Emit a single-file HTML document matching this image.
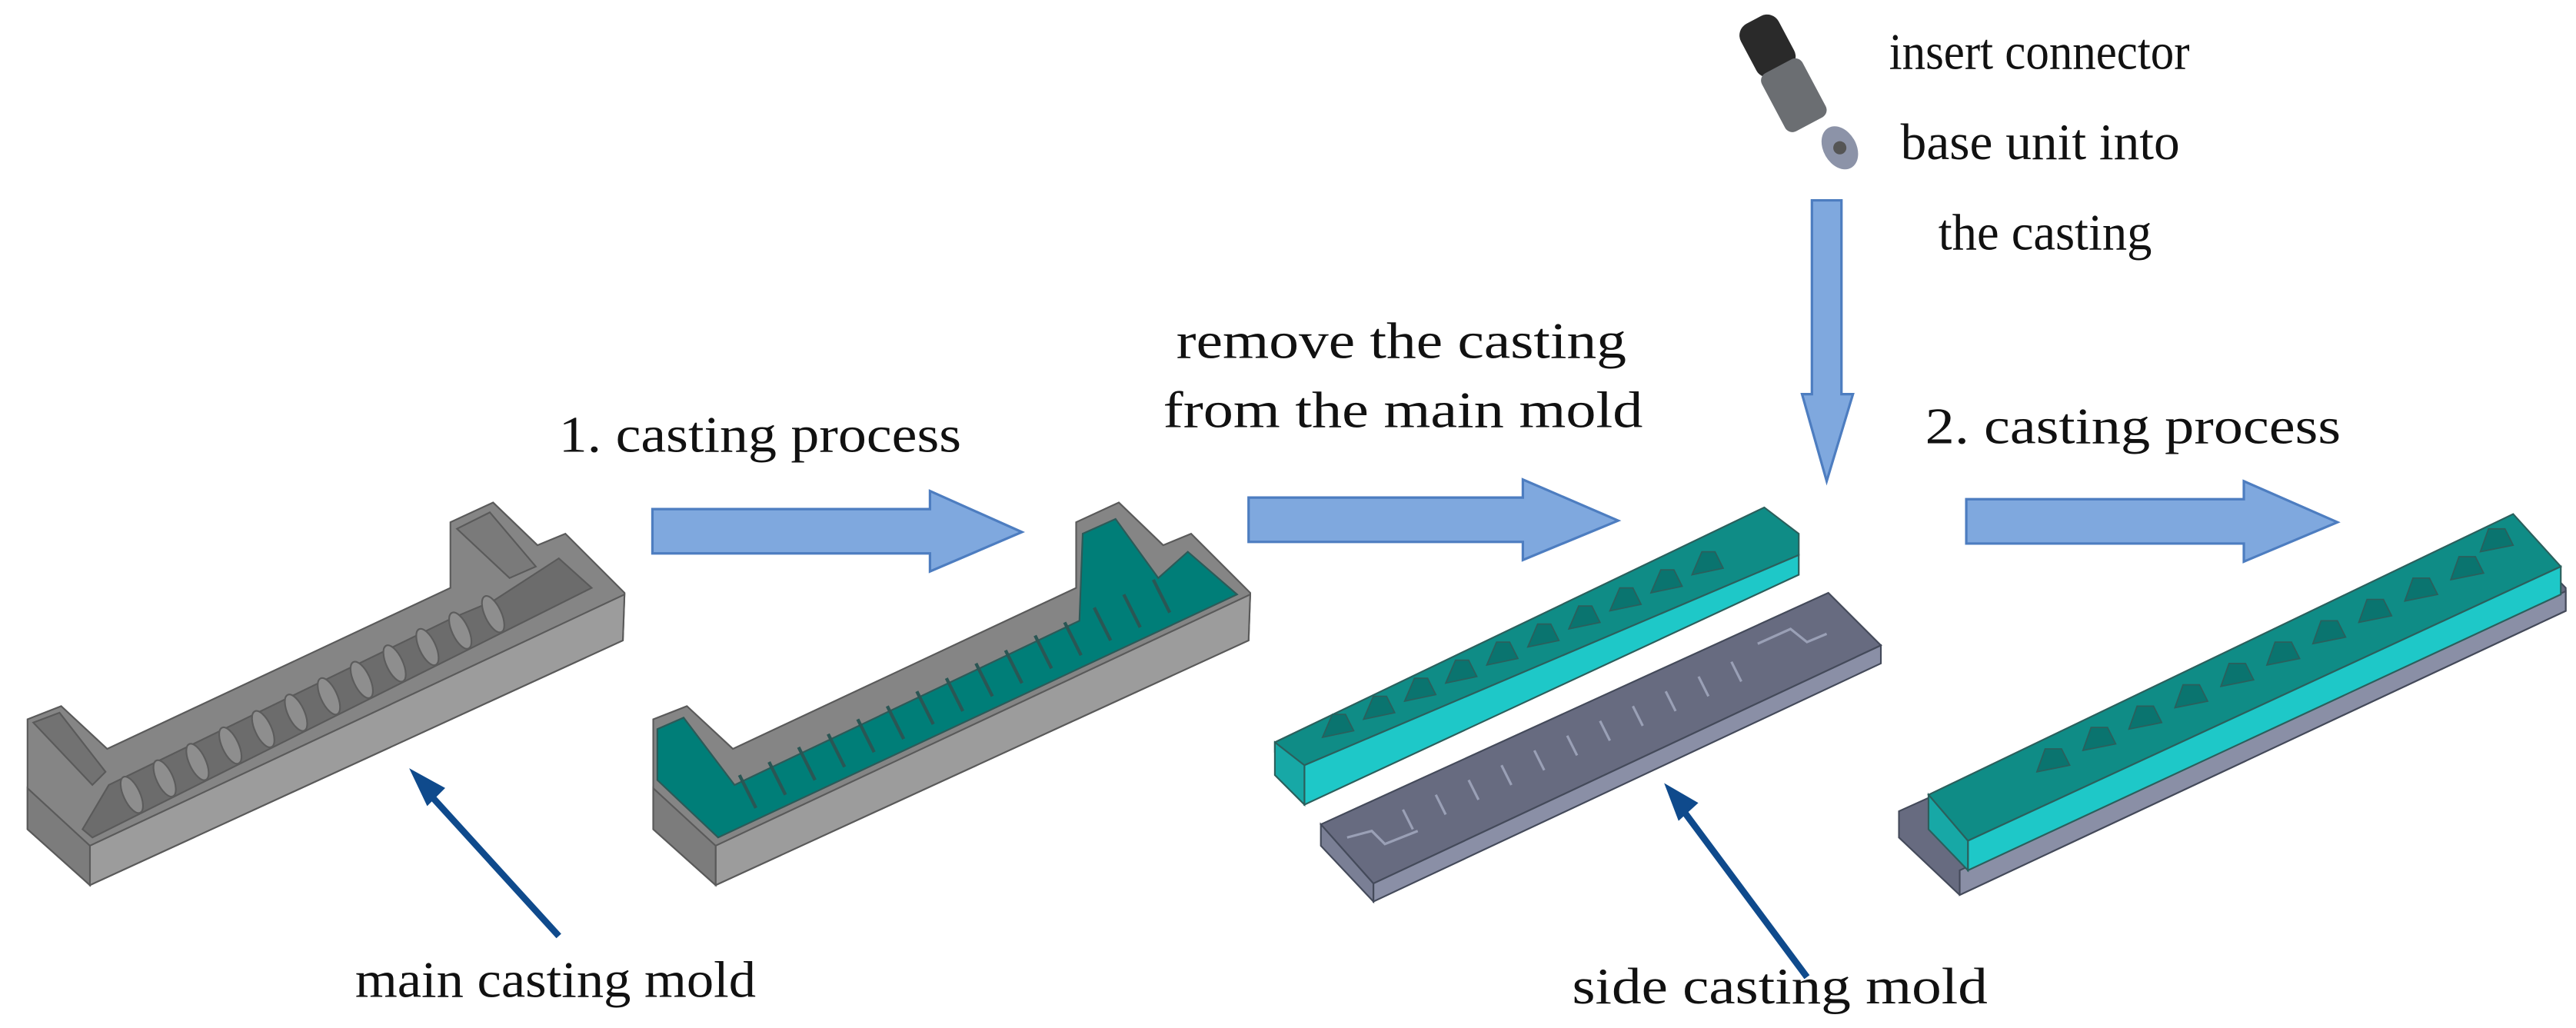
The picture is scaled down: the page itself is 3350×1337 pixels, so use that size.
<!DOCTYPE html>
<html><head><meta charset="utf-8"><style>
html,body{margin:0;padding:0;background:#fff;}
svg{display:block;}
text{font-family:"Liberation Serif",serif;fill:#111;font-size:31px;}
</style></head><body>
<svg width="3350" height="1337" viewBox="0 0 1568 626" xmlns="http://www.w3.org/2000/svg">
<!-- blue arrows -->
<g fill="#7fa8de" stroke="#4d7dc0" stroke-width="1.5">
<polygon points="397,310 566,310 566,299 622,324 566,348 566,337 397,337"/>
<polygon points="760,303 927,303 927,292 985,317 927,341 927,330 760,330"/>
<polygon points="1197,304 1366,304 1366,293 1423,318 1366,342 1366,331 1197,331"/>
<polygon points="1103,122 1121,122 1121,240 1128,240 1112,293 1097,240 1103,240"/>
</g>
<!-- dark blue pointer arrows -->
<g stroke="#0f4a8c" stroke-width="4" fill="#0f4a8c">
<line x1="340" y1="570" x2="258" y2="480"/>
<polygon points="250,469 270,480 260,490" stroke-width="1"/>
<line x1="1100" y1="595" x2="1022" y2="490"/>
<polygon points="1014,478 1033,489 1022,499" stroke-width="1"/>
</g>

<!-- mold 1 gray -->
<g id="mold" stroke="#5a5a5a" stroke-width="1">
<polygon points="16.5,438 37,430 65,456 274,358 274,318 300,306 327,332 344,325 380,361 379,390 54.5,539 16.5,505" fill="#858585"/>
<polygon points="54.5,515 380,362 379,390 54.5,539" fill="#9c9c9c"/>
<polygon points="16.5,480 54.5,515 54.5,539 16.5,505" fill="#7c7c7c"/>
<polygon points="50,505 66,478 276,376 300,366 340,340 360,358 56,510" fill="#6c6c6c"/>
<polygon points="20,440 36,434 64,470 56,478" fill="#727272"/>
<polygon points="278,322 298,312 326,345 310,352" fill="#7a7a7a"/>
</g>
<g fill="#8e8e8e" stroke="#5c5c5c" stroke-width="1">
<ellipse cx="80" cy="484" rx="5" ry="12" transform="rotate(-25 80 484)"/>
<ellipse cx="100" cy="474" rx="5" ry="12" transform="rotate(-25 100 474)"/>
<ellipse cx="120" cy="464" rx="5" ry="12" transform="rotate(-25 120 464)"/>
<ellipse cx="140" cy="454" rx="5" ry="12" transform="rotate(-25 140 454)"/>
<ellipse cx="160" cy="444" rx="5" ry="12" transform="rotate(-25 160 444)"/>
<ellipse cx="180" cy="434" rx="5" ry="12" transform="rotate(-25 180 434)"/>
<ellipse cx="200" cy="424" rx="5" ry="12" transform="rotate(-25 200 424)"/>
<ellipse cx="220" cy="414" rx="5" ry="12" transform="rotate(-25 220 414)"/>
<ellipse cx="240" cy="404" rx="5" ry="12" transform="rotate(-25 240 404)"/>
<ellipse cx="260" cy="394" rx="5" ry="12" transform="rotate(-25 260 394)"/>
<ellipse cx="280" cy="384" rx="5" ry="12" transform="rotate(-25 280 384)"/>
<ellipse cx="300" cy="374" rx="5" ry="12" transform="rotate(-25 300 374)"/>
</g>

<!-- mold 2 with teal casting -->
<g transform="translate(381,0)" stroke="#5a5a5a" stroke-width="1">
<polygon points="16.5,438 37,430 65,456 274,358 274,318 300,306 327,332 344,325 380,361 379,390 54.5,539 16.5,505" fill="#858585"/>
<polygon points="54.5,515 380,362 379,390 54.5,539" fill="#9c9c9c"/>
<polygon points="16.5,480 54.5,515 54.5,539 16.5,505" fill="#7c7c7c"/>
<polygon points="19,444 35,437 66,478 276,378 278,325 298,316 324,352 342,336 372,362 56,510 19,475" fill="#007e78" stroke="#2c5a58"/>
</g>
<g stroke="#2a5654" stroke-width="2" fill="none">
<path d="M460,492 l-10,-20 M478,484 l-10,-20 M496,475 l-10,-20 M514,467 l-10,-20 M532,458 l-10,-20 M550,450 l-10,-20 M568,441 l-10,-20 M586,433 l-10,-20 M604,424 l-10,-20 M622,416 l-10,-20 M640,407 l-10,-20 M658,399 l-10,-20 M676,390 l-10,-20 M694,382 l-10,-20 M712,373 l-10,-20"/>
</g>

<!-- side casting teal -->
<g stroke="#2b5f5c" stroke-width="1">
<polygon points="776,452 1074,309 1095,325 1095,338 794,466 776,458" fill="#0f8c86"/>
<polygon points="794,466 1095,338 1095,350 794,490" fill="#1ec8c8"/>
<polygon points="776,452 794,466 794,490 776,472" fill="#17a8a6"/>
</g>
<g fill="#0a746f" stroke="#2b5f5c" stroke-width="0.8">
<path d="M805,449 l6,-14 h8 l5,10 z M830,438 l6,-14 h8 l5,10 z M855,427 l6,-14 h8 l5,10 z M880,416 l6,-14 h8 l5,10 z M905,405 l6,-14 h8 l5,10 z M930,394 l6,-14 h8 l5,10 z M955,383 l6,-14 h8 l5,10 z M980,372 l6,-14 h8 l5,10 z M1005,361 l6,-14 h8 l5,10 z M1030,350 l6,-14 h8 l5,10 z"/>
</g>
<!-- side mold gray -->
<g stroke="#444a5a" stroke-width="1">
<polygon points="804,502 1113,361 1145,393 836,538" fill="#676b80"/>
<polygon points="836,538 1145,393 1145,404 836,549" fill="#8a8fa6"/>
<polygon points="804,502 836,538 836,549 804,515" fill="#7a7f95"/>
</g>
<g stroke="#9aa0b6" stroke-width="1.5" fill="none">
<path d="M860,505 l-6,-12 M880,496 l-6,-12 M900,487 l-6,-12 M920,478 l-6,-12 M940,469 l-6,-12 M960,460 l-6,-12 M980,451 l-6,-12 M1000,442 l-6,-12 M1020,433 l-6,-12 M1040,424 l-6,-12 M1060,415 l-6,-12"/>
<path d="M820,510 l15,-4 l8,8 l20,-8 M1070,392 l20,-9 l10,8 l12,-5"/>
</g>

<!-- final assembly -->
<g stroke="#444a5a" stroke-width="1">
<polygon points="1156,494 1530,325 1562,358 1562,372 1193,545 1156,510" fill="#676b80"/>
<polygon points="1193,530 1562,360 1562,372 1193,545" fill="#8a8fa6"/>
</g>
<g stroke="#2b5f5c" stroke-width="1">
<polygon points="1174,484 1530,313 1559,345 1198,512" fill="#0f8c86"/>
<polygon points="1198,512 1559,345 1559,362 1198,530" fill="#1ec8c8"/>
<polygon points="1174,484 1198,512 1198,530 1174,505" fill="#17a8a6"/>
</g>
<g fill="#0a746f" stroke="#2b5f5c" stroke-width="0.8">
<path d="M1240,470 l5,-14 h10 l5,10 z M1268,457 l5,-14 h10 l5,10 z M1296,444 l5,-14 h10 l5,10 z M1324,431 l5,-14 h10 l5,10 z M1352,418 l5,-14 h10 l5,10 z M1380,405 l5,-14 h10 l5,10 z M1408,392 l5,-14 h10 l5,10 z M1436,379 l5,-14 h10 l5,10 z M1464,366 l5,-14 h10 l5,10 z M1492,353 l5,-14 h10 l5,10 z M1510,336 l5,-14 h10 l5,10 z"/>
</g>

<!-- connector -->
<g>
<rect x="1063" y="10" width="26" height="36" rx="8" fill="#2a2a2a" transform="rotate(-28 1076 28)"/>
<rect x="1078" y="38" width="28" height="40" rx="5" fill="#6b6e72" transform="rotate(-28 1092 58)"/>
<ellipse cx="1120" cy="90" rx="10" ry="14" fill="#8c93a8" transform="rotate(-30 1120 90)"/>
<circle cx="1120" cy="90" r="4" fill="#555"/>
</g>
<!-- labels -->
<text x="340" y="275" textLength="245" lengthAdjust="spacingAndGlyphs">1. casting process</text>
<text x="716" y="218" textLength="274" lengthAdjust="spacingAndGlyphs">remove the casting</text>
<text x="708" y="260" textLength="292" lengthAdjust="spacingAndGlyphs">from the main mold</text>
<text x="1172" y="270" textLength="253" lengthAdjust="spacingAndGlyphs">2. casting process</text>
<text x="1150" y="42" textLength="183" lengthAdjust="spacingAndGlyphs">insert connector</text>
<text x="1157" y="97" textLength="170" lengthAdjust="spacingAndGlyphs">base unit into</text>
<text x="1180" y="152" textLength="130" lengthAdjust="spacingAndGlyphs">the casting</text>
<text x="216" y="607" textLength="244" lengthAdjust="spacingAndGlyphs">main casting mold</text>
<text x="957" y="611" textLength="253" lengthAdjust="spacingAndGlyphs">side casting mold</text>
</svg>
</body></html>
